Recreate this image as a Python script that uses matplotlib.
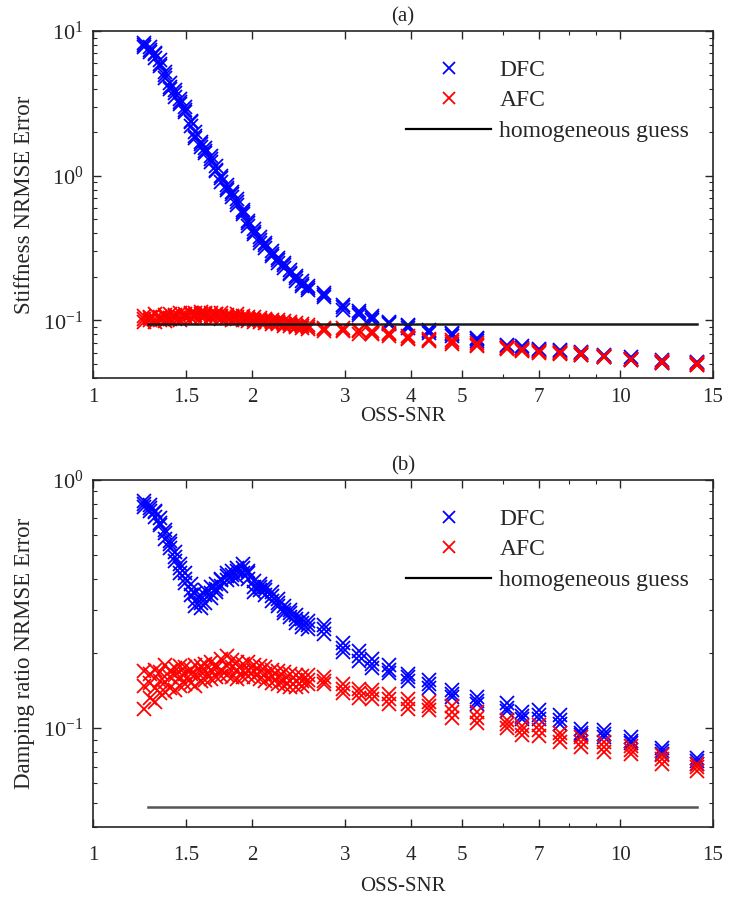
import matplotlib
matplotlib.use("Agg")
import matplotlib.pyplot as plt
from matplotlib.lines import Line2D
from matplotlib.ticker import FixedLocator, FixedFormatter, NullFormatter, LogLocator

plt.rcParams['font.family'] = ['Liberation Serif', 'DejaVu Serif']
plt.rcParams['mathtext.fontset'] = 'custom'
plt.rcParams['mathtext.rm'] = 'Liberation Serif'
plt.rcParams['mathtext.it'] = 'Liberation Serif:italic'

# ---------------- data ----------------
snr = [1.25, 1.28, 1.31, 1.34, 1.37, 1.40, 1.43, 1.46, 1.49, 1.53,
       1.56, 1.60, 1.63, 1.67, 1.71, 1.75, 1.79, 1.83, 1.87, 1.92,
       1.97, 2.02, 2.07, 2.12, 2.18, 2.24, 2.30, 2.36, 2.43, 2.49,
       2.56, 2.74, 2.98, 3.19, 3.38, 3.64, 3.95, 4.33, 4.80, 5.35,
       6.11, 6.52, 7.02, 7.70, 8.41, 9.32, 10.5, 12.0, 14.0]

stiff_dfc_t1 = [8.3, 7.8, 7.1, 6.3, 5.2, 4.4, 3.9, 3.4, 3.0, 2.4,
                2.0, 1.72, 1.55, 1.36, 1.17, 0.99, 0.86, 0.77, 0.69, 0.58,
                0.49, 0.43, 0.375, 0.345, 0.30, 0.27, 0.25, 0.223, 0.203, 0.187,
                0.174, 0.155, 0.127, 0.116, 0.107, 0.098, 0.093, 0.086, 0.082, 0.076,
                0.068, 0.067, 0.064, 0.063, 0.061, 0.058, 0.0555, 0.053, 0.052]
stiff_dfc_t2 = [7.7, 7.2, 6.5, 5.7, 4.7, 4.0, 3.5, 3.15, 2.75, 2.2,
                1.82, 1.58, 1.44, 1.25, 1.07, 0.91, 0.80, 0.71, 0.63, 0.54,
                0.45, 0.395, 0.345, 0.318, 0.28, 0.25, 0.232, 0.208, 0.188, 0.174,
                0.162, 0.145, 0.119, 0.109, 0.101, 0.094, 0.089, 0.082, 0.078, 0.072,
                0.065, 0.063, 0.062, 0.060, 0.058, 0.0555, 0.053, 0.051, 0.050]
stiff_dfc_t3 = [8.0, 7.4, 6.9, 5.9, 5.0, 4.1, 3.75, 3.25, 2.85, 2.35,
                1.88, 1.66, 1.48, 1.31, 1.10, 0.96, 0.82, 0.75, 0.655, 0.56,
                0.47, 0.41, 0.36, 0.33, 0.29, 0.26, 0.24, 0.214, 0.196, 0.179,
                0.168, 0.149, 0.123, 0.112, 0.104, 0.096, 0.091, 0.084, 0.080, 0.074,
                0.0665, 0.065, 0.063, 0.0615, 0.0595, 0.0565, 0.054, 0.052, 0.051]

stiff_afc_t1 = [0.108, 0.104, 0.110, 0.106, 0.109, 0.111, 0.107, 0.112, 0.110, 0.113,
                0.112, 0.114, 0.111, 0.113, 0.110, 0.112, 0.109, 0.108, 0.110, 0.107,
                0.106, 0.105, 0.104, 0.103, 0.101, 0.100, 0.099, 0.097, 0.096, 0.094,
                0.093, 0.089, 0.088, 0.086, 0.084, 0.082, 0.078, 0.075, 0.073, 0.070,
                0.066, 0.064, 0.062, 0.061, 0.0595, 0.057, 0.0545, 0.0525, 0.0505]
stiff_afc_t2 = [0.098, 0.101, 0.097, 0.100, 0.099, 0.102, 0.103, 0.101, 0.105, 0.104,
                0.106, 0.105, 0.107, 0.104, 0.106, 0.103, 0.104, 0.101, 0.102, 0.100,
                0.099, 0.098, 0.097, 0.096, 0.094, 0.094, 0.092, 0.091, 0.090, 0.088,
                0.087, 0.085, 0.084, 0.081, 0.080, 0.078, 0.074, 0.072, 0.069, 0.067,
                0.0635, 0.062, 0.060, 0.059, 0.058, 0.0555, 0.053, 0.051, 0.049]
stiff_afc_t3 = [0.103, 0.106, 0.102, 0.104, 0.106, 0.104, 0.109, 0.106, 0.108, 0.110,
                0.109, 0.110, 0.113, 0.108, 0.111, 0.107, 0.106, 0.105, 0.106, 0.104,
                0.102, 0.101, 0.100, 0.099, 0.098, 0.097, 0.095, 0.094, 0.092, 0.091,
                0.090, 0.087, 0.086, 0.084, 0.082, 0.080, 0.076, 0.073, 0.071, 0.068,
                0.065, 0.063, 0.061, 0.060, 0.059, 0.056, 0.054, 0.052, 0.0495]

damp_dfc_t1 = [0.82, 0.79, 0.75, 0.70, 0.63, 0.57, 0.51, 0.46, 0.42, 0.38,
               0.35, 0.34, 0.36, 0.37, 0.38, 0.40, 0.42, 0.43, 0.44, 0.46,
               0.43, 0.39, 0.38, 0.37, 0.355, 0.33, 0.31, 0.30, 0.285, 0.275,
               0.27, 0.26, 0.22, 0.205, 0.19, 0.18, 0.166, 0.156, 0.142, 0.134,
               0.126, 0.116, 0.118, 0.113, 0.099, 0.098, 0.092, 0.083, 0.076]
damp_dfc_t2 = [0.78, 0.75, 0.71, 0.66, 0.58, 0.53, 0.47, 0.42, 0.385, 0.345,
               0.325, 0.305, 0.32, 0.335, 0.355, 0.375, 0.395, 0.40, 0.405, 0.42,
               0.40, 0.355, 0.36, 0.345, 0.325, 0.31, 0.29, 0.28, 0.265, 0.255,
               0.25, 0.24, 0.203, 0.187, 0.174, 0.167, 0.155, 0.145, 0.133, 0.125,
               0.117, 0.109, 0.109, 0.104, 0.094, 0.092, 0.087, 0.079, 0.072]
damp_dfc_t3 = [0.80, 0.77, 0.74, 0.67, 0.61, 0.55, 0.49, 0.44, 0.40, 0.36,
               0.31, 0.32, 0.345, 0.35, 0.365, 0.395, 0.41, 0.415, 0.43, 0.44,
               0.42, 0.37, 0.37, 0.36, 0.34, 0.32, 0.30, 0.29, 0.275, 0.265,
               0.26, 0.25, 0.211, 0.195, 0.181, 0.172, 0.160, 0.150, 0.137, 0.129,
               0.121, 0.112, 0.113, 0.108, 0.096, 0.095, 0.089, 0.081, 0.074]

damp_afc_t1 = [0.17, 0.165, 0.172, 0.168, 0.18, 0.17, 0.175, 0.178, 0.176, 0.172,
               0.18, 0.178, 0.182, 0.185, 0.18, 0.19, 0.195, 0.188, 0.185, 0.182,
               0.184, 0.18, 0.178, 0.176, 0.172, 0.17, 0.168, 0.165, 0.163, 0.162,
               0.163, 0.16, 0.15, 0.144, 0.142, 0.137, 0.131, 0.128, 0.123, 0.116,
               0.108, 0.102, 0.103, 0.096, 0.092, 0.088, 0.085, 0.078, 0.072]
damp_afc_t2 = [0.12, 0.132, 0.128, 0.138, 0.14, 0.145, 0.142, 0.148, 0.15, 0.152,
               0.148, 0.155, 0.156, 0.158, 0.16, 0.162, 0.163, 0.16, 0.158, 0.16,
               0.162, 0.16, 0.158, 0.155, 0.152, 0.151, 0.148, 0.146, 0.147, 0.148,
               0.15, 0.15, 0.139, 0.132, 0.131, 0.125, 0.12, 0.118, 0.11, 0.105,
               0.10, 0.094, 0.093, 0.088, 0.084, 0.08, 0.079, 0.072, 0.067]
damp_afc_t3 = [0.148, 0.152, 0.145, 0.155, 0.153, 0.16, 0.163, 0.16, 0.165, 0.166,
               0.164, 0.168, 0.17, 0.172, 0.175, 0.172, 0.178, 0.176, 0.172, 0.17,
               0.172, 0.17, 0.168, 0.165, 0.162, 0.16, 0.157, 0.155, 0.155, 0.155,
               0.157, 0.155, 0.144, 0.138, 0.137, 0.131, 0.125, 0.123, 0.116, 0.110,
               0.104, 0.098, 0.098, 0.092, 0.088, 0.084, 0.082, 0.075, 0.0695]

stiff_homog = 0.094
damp_homog = 0.048
homog_x = [1.27, 14.0]

xtick_vals = [1, 1.5, 2, 3, 4, 5, 7, 10, 15]
xtick_labels = ['1', '1.5', '2', '3', '4', '5', '7', '10', '15']
xminor_vals = [6, 8, 9]

panels = [
    dict(title='(a)', ylabel='Stiffness NRMSE Error', ylim=(0.04, 10),
         yticks=[0.1, 1, 10], ylabels=[r'$10^{-1}$', r'$10^{0}$', r'$10^{1}$'],
         dfc=[stiff_dfc_t1, stiff_dfc_t2, stiff_dfc_t3],
         afc=[stiff_afc_t1, stiff_afc_t2, stiff_afc_t3], homog=stiff_homog,
         hcolor='#1a1a1a', xlabelpad=0.5, tickpad=7),
    dict(title='(b)', ylabel='Damping ratio NRMSE Error', ylim=(0.04, 1),
         yticks=[0.1, 1], ylabels=[r'$10^{-1}$', r'$10^{0}$'],
         dfc=[damp_dfc_t1, damp_dfc_t2, damp_dfc_t3],
         afc=[damp_afc_t1, damp_afc_t2, damp_afc_t3], homog=damp_homog,
         hcolor='#555555', xlabelpad=8, tickpad=14),
]

fig = plt.figure(figsize=(7.29, 8.98), dpi=100)
axes_rects = [[0.128, 0.579, 0.850, 0.3865], [0.128, 0.0791, 0.850, 0.3865]]

BLUE = '#0000ff'
RED = '#ff0000'
FS = 15
TXT = '#262626'

for rect, p in zip(axes_rects, panels):
    ax = fig.add_axes(rect)
    ax.set_xscale('log')
    ax.set_yscale('log')
    for tr in p['dfc']:
        ax.plot(snr, tr, linestyle='none', marker='x', color=BLUE,
                markersize=10, markeredgewidth=1.3)
    for tr in p['afc']:
        ax.plot(snr, tr, linestyle='none', marker='x', color=RED,
                markersize=10, markeredgewidth=1.3)
    ax.plot(homog_x, [p['homog'], p['homog']], color=p['hcolor'], lw=1.8)

    ax.set_xlim(1, 15)
    ax.set_ylim(*p['ylim'])
    ax.xaxis.set_major_locator(FixedLocator(xtick_vals))
    ax.xaxis.set_major_formatter(FixedFormatter(xtick_labels))
    ax.xaxis.set_minor_locator(FixedLocator(xminor_vals))
    ax.xaxis.set_minor_formatter(NullFormatter())
    ax.yaxis.set_major_locator(FixedLocator(p['yticks']))
    ax.yaxis.set_major_formatter(FixedFormatter(p['ylabels']))
    ax.yaxis.set_minor_locator(LogLocator(base=10, subs=range(2, 10)))
    ax.yaxis.set_minor_formatter(NullFormatter())
    ax.tick_params(which='both', direction='in', top=True, right=True,
                   colors=TXT)
    ax.tick_params(which='major', length=6, width=1.0)
    ax.tick_params(which='minor', length=3, width=0.8)
    ax.tick_params(axis='x', which='major', labelsize=FS, pad=p['tickpad'])
    ax.tick_params(axis='y', which='major', labelsize=FS + 1, pad=7)
    for s in ax.spines.values():
        s.set_linewidth(1.2)
        s.set_color(TXT)

    ax.set_title(p['title'], fontsize=FS, pad=7, color=TXT)
    ax.set_xlabel('OSS-SNR', fontsize=FS, labelpad=p['xlabelpad'], color=TXT)
    ax.set_ylabel(p['ylabel'], fontsize=FS + 1.5, labelpad=6, color=TXT)

    handles = [
        Line2D([], [], linestyle='none', marker='x', color=BLUE, markersize=8,
               markeredgewidth=1.3),
        Line2D([], [], linestyle='none', marker='x', color=RED, markersize=8,
               markeredgewidth=1.3),
        Line2D([], [], color='black', lw=1.6),
    ]
    leg = ax.legend(handles, ['DFC', 'AFC', 'homogeneous guess'],
                    loc='upper left', bbox_to_anchor=(0.505, 0.918),
                    frameon=False, fontsize=FS + 2, handlelength=3.6,
                    handletextpad=0.35, labelspacing=0.38, borderpad=0,
                    borderaxespad=0)
    for t in leg.get_texts():
        t.set_color(TXT)

fig.savefig('out.png', dpi=100)
